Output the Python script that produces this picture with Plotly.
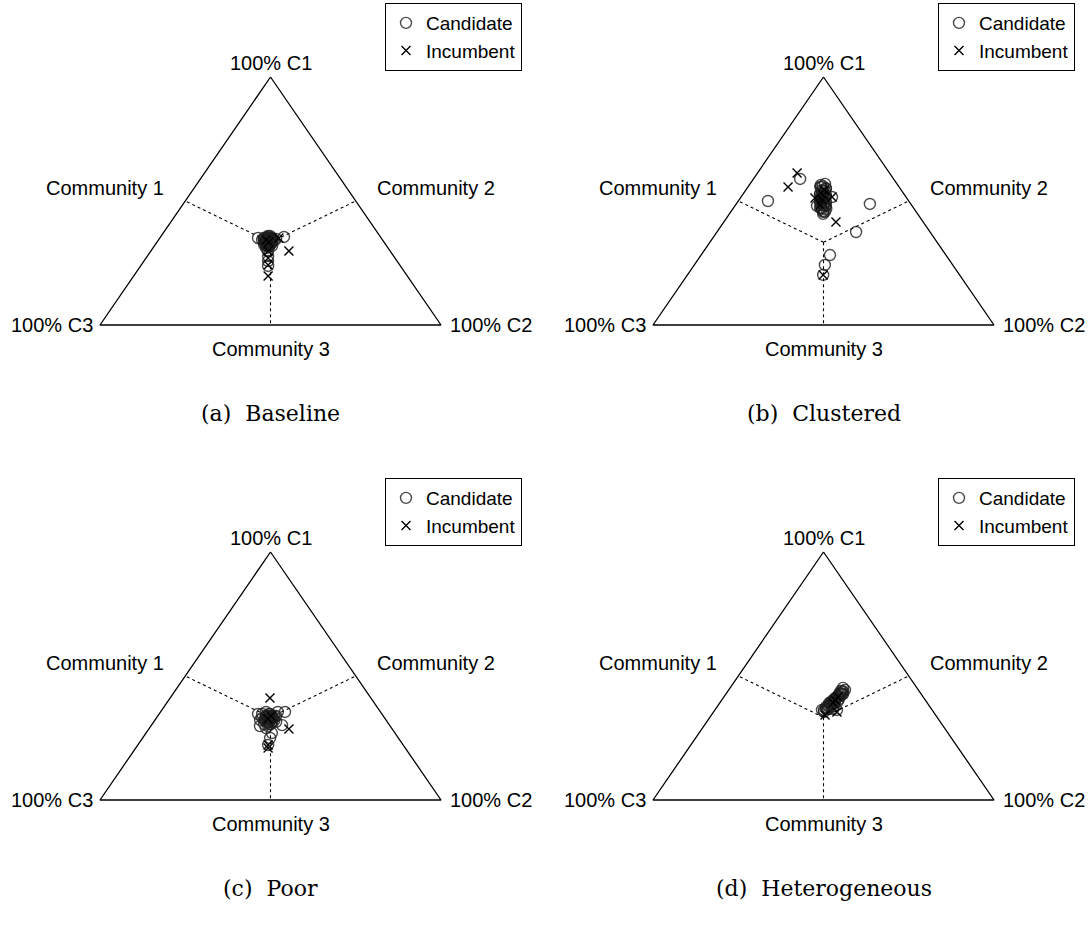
import plotly.graph_objects as go

# ---------------------------------------------------------------------------
# Community shares (C1, C2, C3) of every candidate and incumbent, per scenario
# ---------------------------------------------------------------------------
baseline_cand_c1 = [0.351, 0.355, 0.347, 0.343, 0.343, 0.343, 0.331, 0.335, 0.327, 0.323,
                    0.347, 0.351, 0.335, 0.315, 0.337, 0.345, 0.298, 0.278, 0.258, 0.238,
                    0.351, 0.355, 0.351, 0.335, 0.335, 0.339, 0.323, 0.323, 0.319, 0.310,
                    0.359, 0.343, 0.351, 0.351, 0.351, 0.339, 0.339, 0.327, 0.327, 0.327,
                    0.343, 0.335, 0.331, 0.347, 0.335, 0.343, 0.319, 0.319, 0.323, 0.359]
baseline_cand_c2 = [0.288, 0.362, 0.343, 0.309, 0.316, 0.327, 0.327, 0.337, 0.323, 0.337,
                    0.319, 0.326, 0.316, 0.338, 0.321, 0.335, 0.344, 0.354, 0.364, 0.374,
                    0.305, 0.315, 0.329, 0.319, 0.331, 0.341, 0.320, 0.331, 0.345, 0.332,
                    0.319, 0.304, 0.309, 0.317, 0.326, 0.315, 0.332, 0.321, 0.329, 0.338,
                    0.318, 0.328, 0.324, 0.325, 0.314, 0.333, 0.333, 0.328, 0.337, 0.313]
baseline_cand_c3 = [0.361, 0.283, 0.310, 0.348, 0.341, 0.330, 0.342, 0.328, 0.350, 0.340,
                    0.334, 0.323, 0.349, 0.347, 0.342, 0.320, 0.358, 0.368, 0.378, 0.388,
                    0.344, 0.330, 0.320, 0.346, 0.334, 0.320, 0.357, 0.346, 0.336, 0.358,
                    0.322, 0.353, 0.340, 0.332, 0.323, 0.346, 0.329, 0.352, 0.344, 0.335,
                    0.339, 0.337, 0.345, 0.328, 0.351, 0.324, 0.348, 0.353, 0.340, 0.328]
baseline_inc_c1 = [0.298, 0.198, 0.298, 0.270, 0.242, 0.335, 0.343, 0.351]
baseline_inc_c2 = [0.405, 0.394, 0.344, 0.358, 0.372, 0.328, 0.316, 0.349]
baseline_inc_c3 = [0.297, 0.408, 0.358, 0.372, 0.386, 0.337, 0.341, 0.300]

clustered_cand_c1 = [0.500, 0.589, 0.569, 0.488, 0.375, 0.282, 0.242, 0.202, 0.516, 0.480,
                     0.560, 0.544, 0.532, 0.520, 0.508, 0.496, 0.484, 0.472, 0.460, 0.552,
                     0.504, 0.512, 0.496, 0.528, 0.556, 0.540, 0.528, 0.520, 0.492, 0.480,
                     0.468, 0.456, 0.448, 0.512, 0.557, 0.548, 0.540, 0.528, 0.524, 0.512,
                     0.500, 0.496, 0.484, 0.472, 0.468, 0.456, 0.565, 0.480]
clustered_cand_c2 = [0.087, 0.137, 0.220, 0.392, 0.408, 0.378, 0.383, 0.398, 0.267, 0.241,
                     0.218, 0.223, 0.235, 0.233, 0.250, 0.248, 0.260, 0.257, 0.269, 0.231,
                     0.238, 0.243, 0.254, 0.232, 0.215, 0.234, 0.226, 0.247, 0.244, 0.267,
                     0.262, 0.276, 0.275, 0.240, 0.212, 0.233, 0.228, 0.226, 0.245, 0.243,
                     0.240, 0.259, 0.257, 0.254, 0.274, 0.271, 0.210, 0.265]
clustered_cand_c3 = [0.413, 0.274, 0.211, 0.120, 0.217, 0.340, 0.375, 0.400, 0.217, 0.279,
                     0.222, 0.233, 0.233, 0.247, 0.242, 0.256, 0.256, 0.271, 0.271, 0.217,
                     0.258, 0.245, 0.250, 0.240, 0.229, 0.226, 0.246, 0.233, 0.264, 0.253,
                     0.270, 0.268, 0.277, 0.248, 0.231, 0.219, 0.232, 0.246, 0.231, 0.245,
                     0.260, 0.245, 0.259, 0.274, 0.258, 0.273, 0.225, 0.255]
clustered_inc_c1 = [0.613, 0.556, 0.415, 0.516, 0.202, 0.512, 0.524, 0.504, 0.544, 0.484]
clustered_inc_c2 = [0.116, 0.118, 0.329, 0.267, 0.398, 0.219, 0.237, 0.244, 0.230, 0.248]
clustered_inc_c3 = [0.271, 0.326, 0.256, 0.217, 0.400, 0.269, 0.239, 0.252, 0.226, 0.268]

poor_cand_c1 = [0.323, 0.339, 0.331, 0.315, 0.319, 0.323, 0.347, 0.339, 0.331, 0.298,
                0.306, 0.323, 0.355, 0.355, 0.298, 0.302, 0.270, 0.250, 0.347, 0.222,
                0.355, 0.327, 0.306, 0.339, 0.339, 0.290, 0.315, 0.347, 0.339, 0.339,
                0.339, 0.327, 0.327, 0.315, 0.315, 0.315, 0.331, 0.323, 0.323, 0.331,
                0.306, 0.347]
poor_cand_c2 = [0.337, 0.317, 0.339, 0.335, 0.351, 0.320, 0.325, 0.347, 0.310, 0.344,
                0.348, 0.308, 0.365, 0.344, 0.320, 0.383, 0.369, 0.374, 0.290, 0.382,
                0.309, 0.335, 0.328, 0.323, 0.341, 0.342, 0.359, 0.302, 0.318, 0.326,
                0.335, 0.324, 0.341, 0.330, 0.338, 0.347, 0.327, 0.337, 0.323, 0.342,
                0.342, 0.322]
poor_cand_c3 = [0.340, 0.344, 0.330, 0.350, 0.330, 0.357, 0.328, 0.314, 0.359, 0.358,
                0.346, 0.369, 0.280, 0.301, 0.382, 0.315, 0.361, 0.376, 0.363, 0.396,
                0.336, 0.338, 0.366, 0.338, 0.320, 0.368, 0.326, 0.351, 0.343, 0.335,
                0.326, 0.349, 0.332, 0.355, 0.347, 0.338, 0.342, 0.340, 0.354, 0.327,
                0.352, 0.331]
poor_inc_c1 = [0.411, 0.286, 0.222, 0.210, 0.327, 0.339]
poor_inc_c2 = [0.293, 0.411, 0.382, 0.388, 0.329, 0.332]
poor_inc_c3 = [0.296, 0.303, 0.396, 0.402, 0.344, 0.329]

hetero_cand_c1 = [0.363, 0.367, 0.363, 0.391, 0.431, 0.452, 0.444, 0.419, 0.403, 0.387,
                  0.411, 0.440, 0.379, 0.367, 0.427, 0.355, 0.375, 0.391, 0.407, 0.427,
                  0.379, 0.399, 0.367, 0.363, 0.375, 0.379, 0.391, 0.387, 0.399, 0.395,
                  0.411, 0.407, 0.419, 0.427, 0.431, 0.440, 0.436, 0.419, 0.367]
hetero_cand_c2 = [0.314, 0.330, 0.358, 0.324, 0.333, 0.331, 0.341, 0.333, 0.329, 0.332,
                  0.332, 0.331, 0.327, 0.324, 0.341, 0.324, 0.335, 0.338, 0.342, 0.344,
                  0.341, 0.343, 0.344, 0.320, 0.320, 0.324, 0.321, 0.328, 0.325, 0.333,
                  0.328, 0.333, 0.333, 0.332, 0.336, 0.335, 0.340, 0.339, 0.327]
hetero_cand_c3 = [0.323, 0.303, 0.279, 0.285, 0.236, 0.217, 0.215, 0.248, 0.268, 0.281,
                  0.257, 0.229, 0.294, 0.309, 0.232, 0.321, 0.290, 0.271, 0.251, 0.229,
                  0.280, 0.258, 0.289, 0.317, 0.305, 0.297, 0.288, 0.285, 0.276, 0.272,
                  0.261, 0.260, 0.248, 0.241, 0.233, 0.225, 0.224, 0.242, 0.306]
hetero_inc_c1 = [0.343, 0.355, 0.391, 0.415, 0.403]
hetero_inc_c2 = [0.333, 0.362, 0.333, 0.335, 0.333]
hetero_inc_c3 = [0.324, 0.283, 0.276, 0.250, 0.264]

captions = ["(a)  Baseline", "(b)  Clustered", "(c)  Poor", "(d)  Heterogeneous"]
corner_labels = ["100% C1", "100% C2", "100% C3"]
community_labels = ["Community 1", "Community 2", "Community 3"]
series_names = ["Candidate", "Incumbent"]

panels = [
    (baseline_cand_c1, baseline_cand_c2, baseline_cand_c3,
     baseline_inc_c1, baseline_inc_c2, baseline_inc_c3),
    (clustered_cand_c1, clustered_cand_c2, clustered_cand_c3,
     clustered_inc_c1, clustered_inc_c2, clustered_inc_c3),
    (poor_cand_c1, poor_cand_c2, poor_cand_c3,
     poor_inc_c1, poor_inc_c2, poor_inc_c3),
    (hetero_cand_c1, hetero_cand_c2, hetero_cand_c3,
     hetero_inc_c1, hetero_inc_c2, hetero_inc_c3),
]

# ---------------------------------------------------------------------------
# Layout geometry (pixels): left corner x, right corner x, apex y, base y
# ---------------------------------------------------------------------------
W, H = 1088, 926
frames = [(100, 441, 77, 325), (653, 994, 77, 325),
          (100, 441, 552, 800), (653, 994, 552, 800)]
legend_anchor = [(522, 3), (1075, 3), (522, 478), (1075, 478)]
caption_y = [413, 413, 888, 888]
PAD = 0.03

SANS = "Liberation Sans, Arial, sans-serif"
SERIF = "DejaVu Serif, serif"


def to_xy(c1, c2, c3):
    """Barycentric (C1 apex, C2 right, C3 left) -> planar triangle coords."""
    xs, ys = [], []
    for a, b, c in zip(c1, c2, c3):
        s = a + b + c
        ys.append(a / s)
        xs.append((b + a / 2) / s)
    return xs, ys


fig = go.Figure()
layout_axes = {}
annotations = []
legend_keys = ["legend", "legend2", "legend3", "legend4"]

corners = ([1, 0, 0], [0, 1, 0], [0, 0, 1])      # apex, right, left
centre = (1 / 3, 1 / 3, 1 / 3)
midpoints = [(0.5, 0, 0.5), (0.5, 0.5, 0), (0, 0.5, 0.5)]  # C1-C3, C1-C2, C2-C3 edges

for i, (frame, data) in enumerate(zip(frames, panels)):
    xl, xr, yt, yb = frame
    wpx, hpx = xr - xl, yb - yt
    xa = "x" if i == 0 else f"x{i + 1}"
    ya = "y" if i == 0 else f"y{i + 1}"
    xkey = "xaxis" if i == 0 else f"xaxis{i + 1}"
    ykey = "yaxis" if i == 0 else f"yaxis{i + 1}"

    x0 = (xl - PAD * wpx) / W
    x1 = (xr + PAD * wpx) / W
    y0 = 1 - (yb + PAD * hpx) / H
    y1 = 1 - (yt - PAD * hpx) / H
    layout_axes[xkey] = dict(domain=[x0, x1], range=[-PAD, 1 + PAD], visible=False,
                             fixedrange=True, anchor=ya)
    layout_axes[ykey] = dict(domain=[y0, y1], range=[-PAD, 1 + PAD], visible=False,
                             fixedrange=True, anchor=xa)

    # triangle outline
    oc1 = [corners[0][0], corners[1][0], corners[2][0], corners[0][0]]
    oc2 = [corners[0][1], corners[1][1], corners[2][1], corners[0][1]]
    oc3 = [corners[0][2], corners[1][2], corners[2][2], corners[0][2]]
    tx, ty = to_xy(oc1, oc2, oc3)
    fig.add_trace(go.Scatter(x=tx, y=ty, mode="lines", xaxis=xa, yaxis=ya,
                             line=dict(color="black", width=1.3),
                             showlegend=False, hoverinfo="skip"))

    # dashed separators from the centre to each edge midpoint
    for m in midpoints:
        dx, dy = to_xy([centre[0], m[0]], [centre[1], m[1]], [centre[2], m[2]])
        fig.add_trace(go.Scatter(x=dx, y=dy, mode="lines", xaxis=xa, yaxis=ya,
                                 line=dict(color="black", width=1.1, dash="3px,3px"),
                                 showlegend=False, hoverinfo="skip"))

    cc1, cc2, cc3, ic1, ic2, ic3 = data
    cx, cy = to_xy(cc1, cc2, cc3)
    ix, iy = to_xy(ic1, ic2, ic3)
    fig.add_trace(go.Scatter(
        x=cx, y=cy, mode="markers", name=series_names[0], xaxis=xa, yaxis=ya,
        legend=legend_keys[i], cliponaxis=False,
        marker=dict(symbol="circle-open", size=11, color="rgba(30,30,30,0.8)",
                    line=dict(width=1.4))))
    fig.add_trace(go.Scatter(
        x=ix, y=iy, mode="markers", name=series_names[1], xaxis=xa, yaxis=ya,
        legend=legend_keys[i], cliponaxis=False,
        marker=dict(symbol="x-thin-open", size=9, color="black",
                    line=dict(width=1.4, color="black"))))

    # text around the triangle
    fs = 20
    font = dict(family=SANS, size=fs, color="black")
    annotations += [
        dict(x=0.5, y=1, xref=xa, yref=ya, text=corner_labels[0], showarrow=False,
             xanchor="center", yanchor="bottom", yshift=1, font=font),
        dict(x=1, y=0, xref=xa, yref=ya, text=corner_labels[1], showarrow=False,
             xanchor="left", yanchor="middle", xshift=7, font=font),
        dict(x=0, y=0, xref=xa, yref=ya, text=corner_labels[2], showarrow=False,
             xanchor="right", yanchor="middle", xshift=-5, font=font),
        dict(x=0.25, y=0.5, xref=xa, yref=ya, text=community_labels[0], showarrow=False,
             xanchor="right", yanchor="middle", xshift=-19, yshift=13, font=font),
        dict(x=0.75, y=0.5, xref=xa, yref=ya, text=community_labels[1], showarrow=False,
             xanchor="left", yanchor="middle", xshift=19, yshift=13, font=font),
        dict(x=0.5, y=0, xref=xa, yref=ya, text=community_labels[2], showarrow=False,
             xanchor="center", yanchor="top", yshift=-11, font=font),
        dict(x=(xl + xr) / 2 / W, y=1 - caption_y[i] / H, xref="paper", yref="paper",
             text=captions[i], showarrow=False, xanchor="center", yanchor="middle",
             font=dict(family=SERIF, size=22, color="black")),
    ]

legend_style = dict(bgcolor="white", bordercolor="black", borderwidth=1,
                    font=dict(family=SANS, size=19, color="black"),
                    xanchor="right", yanchor="top", itemwidth=30, tracegroupgap=0)
legends = {}
for key, (lx, ly) in zip(legend_keys, legend_anchor):
    legends[key] = dict(legend_style, x=lx / W, y=1 - ly / H)

fig.update_layout(
    width=W, height=H, margin=dict(l=0, r=0, t=0, b=0),
    paper_bgcolor="white", plot_bgcolor="white",
    annotations=annotations, **layout_axes, **legends,
)

fig.write_html("out.html")
